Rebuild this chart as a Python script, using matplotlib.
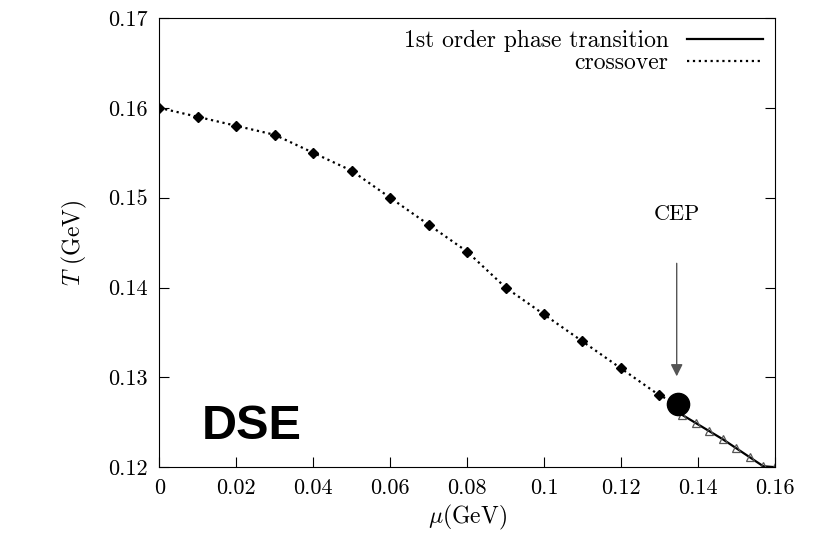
import matplotlib
matplotlib.use("Agg")
import matplotlib.pyplot as plt

mu_cross = [0.0, 0.01, 0.02, 0.03, 0.04, 0.05, 0.06, 0.07, 0.08, 0.09, 0.10, 0.11, 0.12, 0.13]
T_cross = [0.160, 0.159, 0.158, 0.157, 0.155, 0.153, 0.150, 0.147, 0.144, 0.140, 0.137, 0.134, 0.131, 0.128]
mu_first = [0.1349, 0.136, 0.1395, 0.143, 0.1465, 0.150, 0.1535, 0.157, 0.160]
T_first = [0.1270, 0.1258, 0.1249, 0.1240, 0.1231, 0.1221, 0.1211, 0.1201, 0.1200]
cep = (0.1349, 0.1270)
xticks = [0, 0.02, 0.04, 0.06, 0.08, 0.1, 0.12, 0.14, 0.16]
yticks = [0.12, 0.13, 0.14, 0.15, 0.16, 0.17]

plt.rcParams['font.family'] = ['cmr10', 'DejaVu Serif']
plt.rcParams['axes.formatter.use_mathtext'] = True
plt.rcParams['mathtext.fontset'] = 'cm'
fig = plt.figure(figsize=(8.13, 5.47), dpi=100)
ax = fig.add_axes([0.196, 0.146, 0.757, 0.821])

ax.plot(mu_first, T_first, '-', color='black', lw=1.6, label='1st order phase transition')
ax.plot(mu_first[1:], T_first[1:], '^', ms=6, mfc='none', mec='#555555', mew=0.9)
ax.plot(mu_cross + [cep[0]], T_cross + [cep[1]], ':', color='black', lw=1.6, label='crossover')
ax.plot(mu_cross, T_cross, 'D', color='black', ms=5)
ax.plot([cep[0]], [cep[1]], 'o', color='black', ms=16)

ax.annotate('', xy=(0.1345, 0.1298), xytext=(0.1345, 0.1430),
            arrowprops=dict(arrowstyle='-|>', color='#555555', lw=1, mutation_scale=18))
ax.text(0.1345, 0.1482, 'CEP', ha='center', va='center', fontsize=16)
ax.text(0.011, 0.1245, 'DSE', ha='left', va='center', fontsize=35, weight='bold',
        family=['Liberation Sans', 'DejaVu Sans'])

ax.set_xlim(0, 0.16)
ax.set_ylim(0.12, 0.17)
ax.set_xticks(xticks)
ax.set_xticklabels(['0', '0.02', '0.04', '0.06', '0.08', '0.1', '0.12', '0.14', '0.16'])
ax.set_yticks(yticks)
ax.set_yticklabels(['%.2f' % v for v in yticks])
ax.tick_params(direction='in', labelsize=16, length=7, top=False, right=True, pad=8)
ax.set_xlabel(r'$\mu$(GeV)', fontsize=17)
ax.set_ylabel(r'$T$ (GeV)', fontsize=17, labelpad=14)
ax.legend(loc='upper right', frameon=False, fontsize=17, markerfirst=False,
          handlelength=3.2, borderaxespad=0.1, labelspacing=0.0)
fig.savefig('out.png', dpi=100)
